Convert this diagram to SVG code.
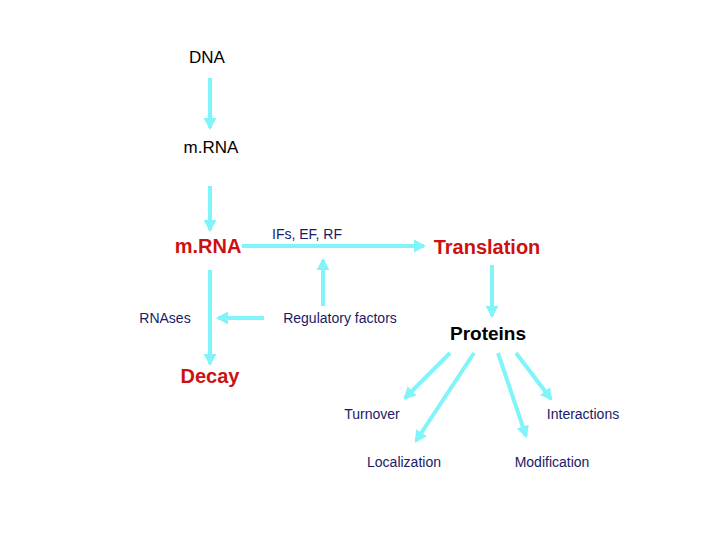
<svg xmlns="http://www.w3.org/2000/svg" width="720" height="540" viewBox="0 0 720 540">
<style>
.c{stroke:#80f4f8;stroke-width:4;fill:none;marker-end:url(#a)}
.b{font-family:"Liberation Sans",Arial,sans-serif;font-size:17px;text-anchor:middle;fill:#000}
.r{font-family:"Liberation Sans",Arial,sans-serif;font-size:20px;font-weight:bold;text-anchor:middle;fill:#cc1111}
.k{font-family:"Liberation Sans",Arial,sans-serif;font-size:19px;font-weight:bold;text-anchor:middle;fill:#000}
.s{font-family:"Liberation Sans",Arial,sans-serif;font-size:14px;text-anchor:middle;fill:#1a1a66}
</style>
<defs><marker id="a" markerWidth="4" markerHeight="4" refX="2.5" refY="2" orient="auto" markerUnits="strokeWidth"><path d="M0,0.4L3,2L0,3.6z" fill="#80f4f8"/></marker></defs>
<rect width="720" height="540" fill="#fff"/>
<g id="connectors">
<line class="c" x1="210" y1="78" x2="210" y2="128"/>
<line class="c" x1="210" y1="186" x2="210" y2="230"/>
<line class="c" x1="242" y1="246" x2="424" y2="246"/>
<line class="c" x1="323" y1="306" x2="323" y2="260"/>
<line class="c" x1="264" y1="318" x2="218" y2="318"/>
<line class="c" x1="210" y1="270" x2="210" y2="364"/>
<line class="c" x1="492" y1="265" x2="492" y2="316"/>
<line class="c" x1="450" y1="353" x2="405" y2="398"/>
<line class="c" x1="474" y1="353" x2="416" y2="441"/>
<line class="c" x1="498" y1="353" x2="526" y2="436"/>
<line class="c" x1="516" y1="353" x2="551" y2="399"/>
</g>
<g id="dna"><text class="b" x="207" y="63">DNA</text></g>
<g id="mrna1"><text class="b" x="211" y="153">m.RNA</text></g>
<g id="mrna2"><text class="r" x="208" y="253">m.RNA</text></g>
<g id="ifs"><text class="s" x="307" y="239">IFs, EF, RF</text></g>
<g id="translation"><text class="r" x="487" y="254">Translation</text></g>
<g id="rnases"><text class="s" x="165" y="323">RNAses</text></g>
<g id="regulatory"><text class="s" x="340" y="323">Regulatory factors</text></g>
<g id="proteins"><text class="k" x="488" y="340">Proteins</text></g>
<g id="decay"><text class="r" x="210" y="383">Decay</text></g>
<g id="turnover"><text class="s" x="372" y="419">Turnover</text></g>
<g id="interactions"><text class="s" x="583" y="419">Interactions</text></g>
<g id="localization"><text class="s" x="404" y="467">Localization</text></g>
<g id="modification"><text class="s" x="552" y="467">Modification</text></g>
</svg>
